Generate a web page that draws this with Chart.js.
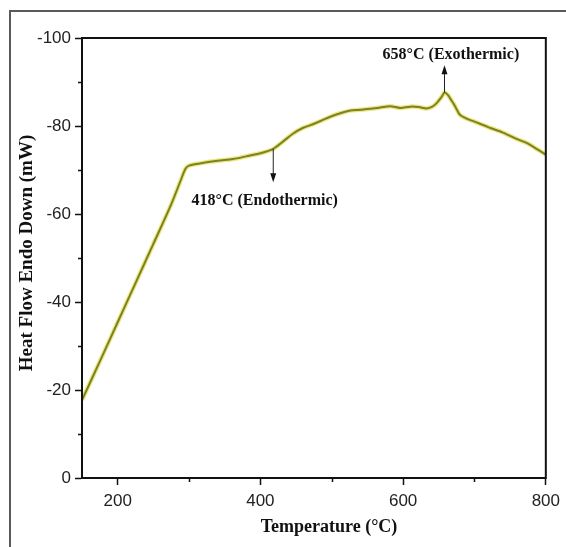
<!DOCTYPE html>
<html>
<head>
<meta charset="utf-8">
<title>DSC Heat Flow</title>
<script src="https://cdn.jsdelivr.net/npm/chart.js@4.4.1/dist/chart.umd.min.js"></script>
<style>
  html, body { margin: 0; padding: 0; background: #ffffff; }
  #wrap { position: relative; width: 566px; height: 547px; }
</style>
</head>
<body>
<div id="wrap"><canvas id="dsc" width="566" height="547"></canvas></div>
<script>
// Temperature (°C) and heat flow (mW) of the DSC trace
const temperature = [150, 175, 200, 225, 250, 275, 288, 295, 300, 315, 340, 362, 380, 400, 418, 432, 446, 460, 470, 485, 498, 512, 526, 540, 554, 568, 582, 596, 610, 622, 633, 641, 647, 654, 658, 663, 667, 671, 676, 680, 690, 700, 720, 740, 760, 775, 790, 800];
const heatFlow = [-17.7, -26.5, -35.4, -44.3, -53.2, -62.2, -67.5, -70.3, -71.0, -71.5, -72.1, -72.5, -73.1, -73.8, -74.8, -76.5, -78.3, -79.6, -80.2, -81.2, -82.1, -82.9, -83.5, -83.7, -83.9, -84.2, -84.5, -84.1, -84.4, -84.3, -84.0, -84.4, -85.2, -86.6, -87.6, -87.0, -86.0, -85.0, -83.5, -82.5, -81.6, -81.0, -79.7, -78.5, -77.0, -76.0, -74.5, -73.5];

// Axis ticks
const xTicks = [200, 400, 600, 800];
const xMinorTicks = [300, 500, 700];
const yTicks = [-100, -80, -60, -40, -20, 0];
const yMinorTicks = [-90, -70, -50, -30, -10];

// Thermal events marked on the curve
const eventTemps = [418, 658];
const eventLabels = ['418°C (Endothermic)', '658°C (Exothermic)'];

const points = temperature.map((t, i) => ({ x: t, y: heatFlow[i] }));

const tickFont = { family: "'Liberation Sans Narrow', 'Liberation Sans', Arial, sans-serif", size: 17 };
const serifBold = "bold 18px 'Liberation Serif', 'Times New Roman', serif";

// Arrow / label placement for each event (direction: +1 down, -1 up on screen)
const eventStyle = [
  { dir: 1, tipY: -67.2, textX: 406, textY: -63.0 },
  { dir: -1, tipY: -93.8, textX: 667, textY: -96.1 }
];

const decorations = {
  id: 'decorations',
  beforeDraw(chart) {
    const ctx = chart.ctx;
    ctx.save();
    ctx.fillStyle = '#ffffff';
    ctx.fillRect(0, 0, chart.width, chart.height);
    // outer frame
    ctx.strokeStyle = '#5a5a5a';
    ctx.lineWidth = 2;
    ctx.beginPath();
    ctx.moveTo(10, chart.height);
    ctx.lineTo(10, 11);
    ctx.lineTo(chart.width, 11);
    ctx.stroke();
    ctx.restore();
  },
  afterDraw(chart) {
    const ctx = chart.ctx;
    const xs = chart.scales.x, ys = chart.scales.y;
    const a = chart.chartArea;
    ctx.save();
    // plot box
    ctx.strokeStyle = '#111111';
    ctx.lineWidth = 2;
    ctx.strokeRect(a.left, a.top, a.right - a.left, a.bottom - a.top);
    // minor ticks
    ctx.lineWidth = 1.5;
    ctx.beginPath();
    xMinorTicks.forEach(v => {
      const px = Math.round(xs.getPixelForValue(v)) + 0.5;
      ctx.moveTo(px, a.bottom);
      ctx.lineTo(px, a.bottom + 4);
    });
    yMinorTicks.forEach(v => {
      const py = Math.round(ys.getPixelForValue(v)) + 0.5;
      ctx.moveTo(a.left, py);
      ctx.lineTo(a.left - 4, py);
    });
    ctx.stroke();

    // event arrows and labels
    ctx.font = "bold 16px 'Liberation Serif', 'Times New Roman', serif";
    ctx.fillStyle = '#111111';
    ctx.strokeStyle = '#222222';
    eventTemps.forEach((t, i) => {
      const st = eventStyle[i];
      const idx = temperature.indexOf(t);
      const px = xs.getPixelForValue(t);
      const py0 = ys.getPixelForValue(heatFlow[idx]);
      const py1 = ys.getPixelForValue(st.tipY);
      ctx.lineWidth = 1;
      ctx.beginPath();
      ctx.moveTo(px, py0);
      ctx.lineTo(px, py1 - st.dir * 7);
      ctx.stroke();
      ctx.beginPath();
      ctx.moveTo(px, py1);
      ctx.lineTo(px - 3, py1 - st.dir * 9);
      ctx.lineTo(px + 3, py1 - st.dir * 9);
      ctx.closePath();
      ctx.fill();
      ctx.textAlign = 'center';
      ctx.textBaseline = 'middle';
      ctx.fillText(eventLabels[i], xs.getPixelForValue(st.textX), ys.getPixelForValue(st.textY));
    });

    // axis titles
    ctx.font = serifBold;
    ctx.textAlign = 'center';
    ctx.textBaseline = 'middle';
    ctx.fillText('Temperature (°C)', 329, 527);
    ctx.translate(27, 253);
    ctx.rotate(-Math.PI / 2);
    ctx.font = "bold 19px 'Liberation Serif', 'Times New Roman', serif";
    ctx.fillText('Heat Flow Endo Down (mW)', 0, 0);
    ctx.restore();
  }
};

new Chart(document.getElementById('dsc'), {
  type: 'line',
  data: {
    datasets: [
      {
        data: points,
        borderColor: 'rgba(226, 226, 90, 0.75)',
        borderWidth: 4.5,
        pointRadius: 0,
        tension: 0.3,
        fill: false,
        order: 2
      },
      {
        data: points,
        borderColor: '#7f7f24',
        borderWidth: 2,
        pointRadius: 0,
        tension: 0.3,
        fill: false,
        order: 1
      }
    ]
  },
  options: {
    responsive: false,
    animation: false,
    events: [],
    layout: { padding: { left: 0, top: 38, right: 20, bottom: 0 } },
    plugins: { legend: { display: false }, tooltip: { enabled: false }, title: { display: false } },
    scales: {
      x: {
        type: 'linear',
        min: 150,
        max: 800,
        afterBuildTicks: s => { s.ticks = xTicks.map(v => ({ value: v })); },
        afterFit: s => { s.height = 69; },
        grid: { drawOnChartArea: false, tickLength: 7, tickColor: '#111111', tickWidth: 1.5 },
        border: { display: true, color: '#111111', width: 2 },
        ticks: { color: '#222222', font: tickFont, padding: 6, maxRotation: 0 }
      },
      y: {
        type: 'linear',
        reverse: true,
        min: -100,
        max: 0,
        afterBuildTicks: s => { s.ticks = yTicks.map(v => ({ value: v })); },
        afterFit: s => { s.width = 82; },
        grid: { drawOnChartArea: false, tickLength: 7, tickColor: '#111111', tickWidth: 1.5 },
        border: { display: true, color: '#111111', width: 2 },
        ticks: { color: '#222222', font: tickFont, padding: 4 }
      }
    }
  },
  plugins: [decorations]
});
</script>
</body>
</html>
